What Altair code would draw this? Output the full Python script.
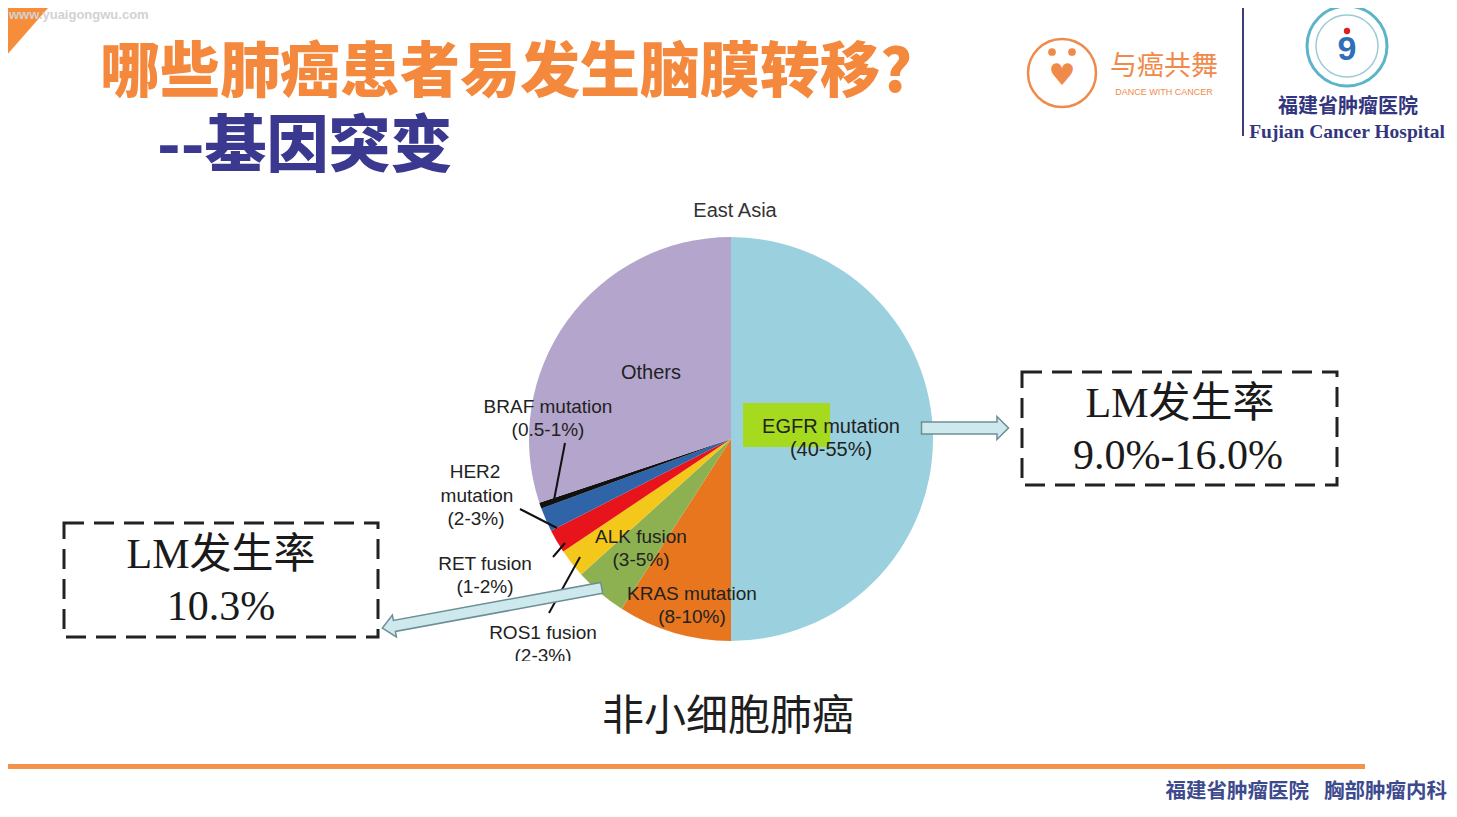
import altair as alt
import pandas as pd

# ---- data ----
categories = ["EGFR mutation", "KRAS mutation", "ALK fusion", "ROS1 fusion",
              "RET fusion", "HER2 mutation", "BRAF mutation", "Others"]
shares = [50.0, 9.1, 4.2, 2.3, 1.9, 1.9, 0.5, 30.1]
slice_order = [0, 1, 2, 3, 4, 5, 6, 7]
slice_colors = ["#9BD1DF", "#E8761E", "#8DB150", "#F4C81A",
                "#E8141B", "#2F64A8", "#111111", "#B3A5CC"]
range_labels = ["(40-55%)", "(8-10%)", "(3-5%)", "(2-3%)", "(1-2%)", "(2-3%)", "(0.5-1%)", ""]

title_text = "哪些肺癌患者易发生脑膜转移?"
subtitle_text = "--基因突变"
pie_title = "East Asia"
caption = "非小细胞肺癌"
lm_label = "LM发生率"
lm_right = "9.0%-16.0%"
lm_left = "10.3%"
footer = "福建省肿瘤医院\u2002 胸部肿瘤内科"

W, H = 1440, 800
O = 8  # page margin

SANS = "Liberation Sans, Arial, Helvetica, sans-serif"
CJK = "Noto Sans CJK SC"
SERIF = "Liberation Serif, Noto Sans CJK SC, serif"

dummy = pd.DataFrame({"d": [0]})
layers = []


def txt(s, x, y, size, color="#222222", font=SANS, weight="normal", align="center", baseline="middle", **kw):
    layers.append(
        alt.Chart(dummy).mark_text(text=s, fontSize=size, font=font, fontWeight=weight, color=color,
                                   align=align, baseline=baseline, **kw)
        .encode(x=alt.value(x - O), y=alt.value(y - O))
    )


def rect(x1, y1, x2, y2, **kw):
    layers.append(
        alt.Chart(dummy).mark_rect(**kw)
        .encode(x=alt.value(x1 - O), x2=alt.value(x2 - O), y=alt.value(y1 - O), y2=alt.value(y2 - O))
    )


def rule(x1, y1, x2, y2, color="#111111", width=2, **kw):
    layers.append(
        alt.Chart(dummy).mark_rule(color=color, strokeWidth=width, **kw)
        .encode(x=alt.value(x1 - O), x2=alt.value(x2 - O), y=alt.value(y1 - O), y2=alt.value(y2 - O))
    )


def symbol(shape, x, y, size, **kw):
    layers.append(
        alt.Chart(dummy).mark_point(shape=shape, size=size, opacity=1, **kw)
        .encode(x=alt.value(x - O), y=alt.value(y - O))
    )


# orange corner triangle (page coords square -8..56 in chart space)
symbol("M -1 -1 L 0.719 -1 L -1 0.969 Z", O + 24, O + 24, 64 * 64, filled=True, fill="#F58D3A", strokeWidth=0)
txt("www.yuaigongwu.com", 9, 9, 13, color="#D2D2D2", font=SANS, weight="bold", align="left", baseline="top")

# titles
txt(title_text, 100, 74, 60, color="#F4893E", font=CJK, weight=900, align="left")
txt(subtitle_text, 157, 148, 62, color="#3A388F", font=CJK, weight=900, align="left")

# logos
symbol("circle", 1062, 73, 68 * 68, filled=False, stroke="#F08A4B", strokeWidth=2.5)
symbol("circle", 1052, 52, 60, filled=True, fill="#F08A4B", strokeWidth=0)
symbol("circle", 1072, 52, 60, filled=True, fill="#F08A4B", strokeWidth=0)
txt("♥", 1062, 76, 30, color="#F08A4B", font="DejaVu Sans")
txt("与癌共舞", 1164, 67, 27, color="#F08A4B", font=CJK)
txt("DANCE WITH CANCER", 1164, 92, 9, color="#F08A4B", font=SANS)
rule(1243, 5, 1243, 136, color="#3A3F7A", width=2)
symbol("circle", 1347, 46, 80 * 80, filled=False, stroke="#5BB5C8", strokeWidth=3)
symbol("circle", 1347, 46, 62 * 62, filled=False, stroke="#9BCBD6", strokeWidth=1.5)
symbol("circle", 1347, 31, 40, filled=True, fill="#E0201E", strokeWidth=0)
txt("9", 1347, 50, 34, color="#2E6FB8", font=SANS, weight="bold")
txt("福建省肿瘤医院", 1348, 107, 20, color="#33367E", font=CJK, weight="bold")
txt("Fujian Cancer Hospital", 1347, 132, 19.5, color="#33367E", font="Liberation Serif", weight="bold")

# pie chart
pie_df = pd.DataFrame({"category": categories, "share": shares, "order": slice_order})
pie = alt.Chart(pie_df).mark_arc(outerRadius=202, strokeWidth=0).encode(
    theta=alt.Theta("share:Q", stack=True),
    color=alt.Color("category:N", scale=alt.Scale(domain=categories, range=slice_colors), legend=None),
    order=alt.Order("order:Q"),
    x=alt.value(731 - O),
    y=alt.value(439 - O),
)
layers.append(pie)

txt(pie_title, 735, 211, 20, color="#333333")

# EGFR highlight
rect(743, 403, 830, 447, color="#A6DA1E")
txt(categories[0], 831, 427, 20)
txt(range_labels[0], 831, 450, 20)
txt(categories[7], 651, 373, 20)
txt(categories[6], 548, 407, 19)
txt(range_labels[6], 548, 430, 19)
txt("HER2", 475, 472, 19)
txt("mutation", 477, 496, 19)
txt(range_labels[5], 476, 519, 19)
txt(categories[4], 485, 564, 19)
txt(range_labels[4], 485, 587, 19)
txt(categories[3], 543, 633, 19)
txt(range_labels[3], 543, 656, 19)
txt(categories[2], 641, 537, 19)
txt(range_labels[2], 641, 560, 19)
txt(categories[1], 692, 594, 19)
txt(range_labels[1], 692, 617, 19)
# crop of the bottom of the ROS1 label
rect(470, 661, 620, 690, color="#FFFFFF")

# leader lines
rule(565, 443, 554, 500)
rule(520, 509, 557, 528)
rule(553, 557, 565, 543)
rule(549, 613, 580, 557)

# arrows
arrow_right = "M -1 -0.138 L 0.735 -0.138 L 0.735 -0.264 L 1 0 L 0.735 0.264 L 0.735 0.138 L -1 0.138 Z"
symbol(arrow_right, 965, 428, 87 * 87, filled=True, fill="#CDE9ED", stroke="#6C8E94", strokeWidth=1.5)
arrow_long = "M -1 -0.05 L 0.89 -0.05 L 0.89 -0.1 L 1 0 L 0.89 0.1 L 0.89 0.05 L -1 0.05 Z"
symbol(arrow_long, 492, 608, 223 * 223, filled=True, fill="#CDE9ED", stroke="#6C8E94", strokeWidth=1.5,
       angle=169.6)

# LM boxes
rect(1022, 372, 1337, 485, filled=False, stroke="#222222", strokeWidth=3, strokeDash=[20, 10], fillOpacity=0)
txt(lm_label, 1180, 404, 42, color="#1A1A1A", font=SERIF)
txt(lm_right, 1178, 456, 42, color="#1A1A1A", font=SERIF)
rect(64, 523, 378, 637, filled=False, stroke="#222222", strokeWidth=3, strokeDash=[20, 10], fillOpacity=0)
txt(lm_label, 221, 555, 42, color="#1A1A1A", font=SERIF)
txt(lm_left, 221, 607, 42, color="#1A1A1A", font=SERIF)

# caption, line and footer
txt(caption, 728, 717, 42, color="#1E1E1E", font=CJK)
rect(0, 764, 1365, 769, color="#F4924A")
txt(footer, 1447, 792, 20.5, color="#3D4A8E", font=CJK, weight="bold", align="right")

chart = alt.layer(*layers).properties(
    width=W, height=H, padding=0, autosize="none", background="#FFFFFF"
).configure_view(stroke=None)

chart.save("out.html", embed_options={"renderer": "svg", "actions": False})
